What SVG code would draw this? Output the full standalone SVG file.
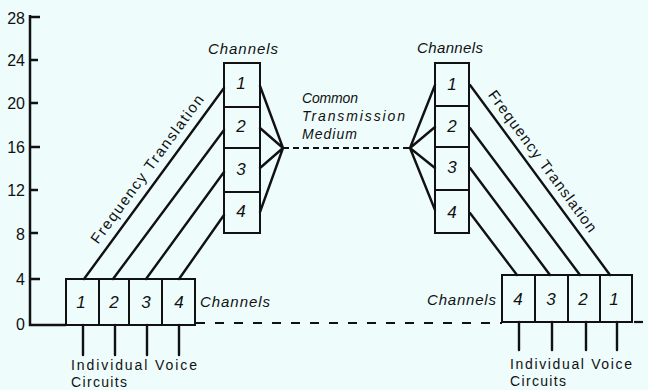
<svg xmlns="http://www.w3.org/2000/svg" width="648" height="390" viewBox="0 0 648 390">
<style>
.bg{fill:#eefcfc}
.box{fill:none;stroke:#111;stroke-width:2}
.ln{fill:none;stroke:#111;stroke-width:2.4;stroke-linecap:round}
.ax{fill:none;stroke:#111;stroke-width:2.5}
.dash1{fill:none;stroke:#111;stroke-width:2.2;stroke-dasharray:9 10}
.dash2{fill:none;stroke:#111;stroke-width:2.2;stroke-dasharray:6 4}
.t{font-family:"Liberation Sans","DejaVu Sans",sans-serif;fill:#111}
.ax-t{font-size:16px;text-anchor:end}
.it{font-style:italic}
.num{font-size:17px;font-style:italic;text-anchor:middle}
</style>
<rect class="bg" x="0" y="0" width="648" height="390"/>

<g id="axis">
  <path class="ax" d="M30 15 V325 H66"/>
  <path class="ax" d="M30 17 H40 M30 60 H38 M30 103 H38 M30 147 H40 M30 190 H38 M30 233 H38 M30 279 H40"/>
  <g class="t ax-t">
    <text x="25" y="24">28</text>
    <text x="25" y="66">24</text>
    <text x="25" y="109">20</text>
    <text x="25" y="153">16</text>
    <text x="25" y="196">12</text>
    <text x="25" y="240">8</text>
    <text x="25" y="285">4</text>
    <text x="25" y="330">0</text>
  </g>
</g>

<g id="connectors">
  <path class="dash1" d="M196 323 H502"/>
  <path class="dash1" d="M634 322 H648"/>
  <path class="dash2" d="M283 148 H410"/>
  <path class="ln" d="M84 279 L224 88 M113 279 L224 130 M146 279 L224 172 M179 279 L224 215"/>
  <path class="ln" d="M260 86 L283 148 M260 128 L283 148 M260 168 L283 148 M260 212 L283 148"/>
  <path class="ln" d="M410 148 L435 85 M410 148 L435 127 M410 148 L435 168 M410 148 L435 210"/>
  <path class="ln" d="M470 85 L610 275 M470 128 L580 275 M470 168 L550 275 M470 213 L517 275"/>
  <path class="ln" d="M83 325 V355 M115 325 V355 M147 325 V355 M179 325 V355"/>
  <path class="ln" d="M519 322 V350 M552 322 V350 M586 322 V350 M617 322 V350"/>
</g>

<g id="left-channels">
  <rect class="box" x="66" y="279" width="129" height="46"/>
  <path class="box" d="M99 279 V325 M129 279 V325 M162 279 V325"/>
  <g class="t num">
    <text x="81" y="308">1</text>
    <text x="114" y="308">2</text>
    <text x="146" y="308">3</text>
    <text x="179" y="308">4</text>
  </g>
  <text class="t it" x="200" y="307" font-size="15" textLength="70" lengthAdjust="spacing">Channels</text>
</g>

<g id="left-stack">
  <rect class="box" x="224" y="63" width="36" height="170"/>
  <path class="box" d="M224 107 H260 M224 148 H260 M224 192 H260"/>
  <g class="t num">
    <text x="241" y="89">1</text>
    <text x="241" y="132">2</text>
    <text x="241" y="175">3</text>
    <text x="241" y="217">4</text>
  </g>
  <text class="t it" x="208" y="54" font-size="15" textLength="70" lengthAdjust="spacing">Channels</text>
</g>

<g id="medium">
  <text class="t it" x="302" y="103" font-size="14" textLength="56" lengthAdjust="spacing">Common</text>
  <text class="t it" x="302" y="121" font-size="14" textLength="103" lengthAdjust="spacing">Transmission</text>
  <text class="t it" x="302" y="139" font-size="14" textLength="55" lengthAdjust="spacing">Medium</text>
</g>

<g id="right-stack">
  <rect class="box" x="435" y="63" width="34" height="170"/>
  <path class="box" d="M435 106 H469 M435 147 H469 M435 190 H469"/>
  <g class="t num">
    <text x="452" y="90">1</text>
    <text x="452" y="132">2</text>
    <text x="452" y="173">3</text>
    <text x="452" y="218">4</text>
  </g>
  <text class="t it" x="417" y="53" font-size="15" textLength="66" lengthAdjust="spacing">Channels</text>
</g>

<g id="right-channels">
  <rect class="box" x="502" y="275" width="130" height="47"/>
  <path class="box" d="M535 275 V322 M568 275 V322 M600 275 V322"/>
  <g class="t num">
    <text x="518" y="305">4</text>
    <text x="551" y="305">3</text>
    <text x="583" y="305">2</text>
    <text x="614" y="305">1</text>
  </g>
  <text class="t it" x="427" y="305" font-size="15" textLength="69" lengthAdjust="spacing">Channels</text>
</g>

<g id="translation-labels">
  <text class="t" font-size="15" text-anchor="middle" textLength="180" lengthAdjust="spacing" transform="translate(158.5 177.4) rotate(-53.8)" x="0" y="-9">Frequency Translation</text>
  <text class="t" font-size="15" text-anchor="middle" textLength="172" lengthAdjust="spacing" transform="translate(532 169) rotate(53.6)" x="0" y="-8">Frequency Translation</text>
</g>

<g id="voice-labels">
  <text class="t" font-size="14" x="71" y="370" textLength="126" lengthAdjust="spacing">Individual Voice</text>
  <text class="t" font-size="14" x="71" y="387" textLength="56" lengthAdjust="spacing">Circuits</text>
  <text class="t" font-size="14" x="510" y="369" textLength="122" lengthAdjust="spacing">Individual Voice</text>
  <text class="t" font-size="14" x="510" y="386" textLength="56" lengthAdjust="spacing">Circuits</text>
</g>
</svg>
